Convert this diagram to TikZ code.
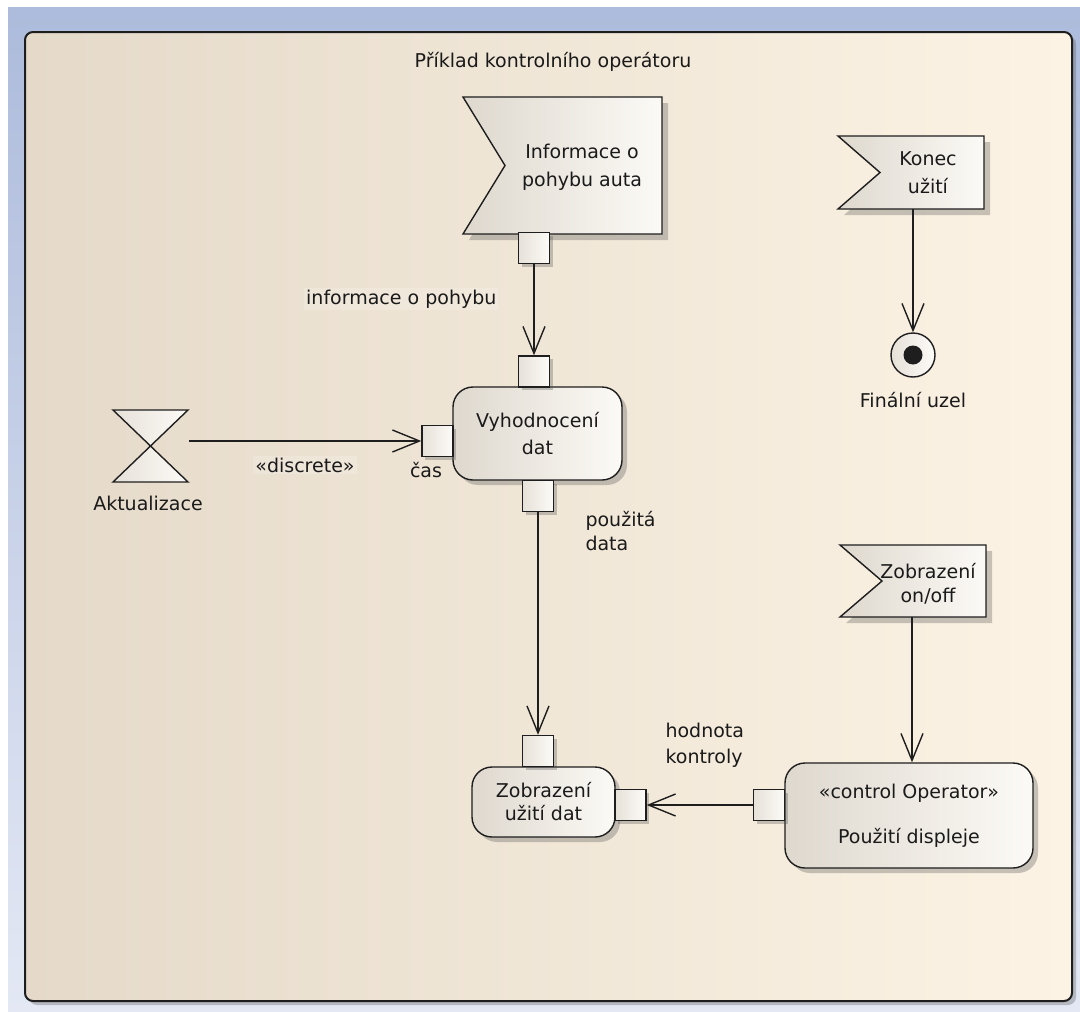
\documentclass[tikz,border=0pt]{standalone}
\usepackage{fontspec}
\setmainfont{DejaVu Sans}
\usetikzlibrary{arrows.meta,shadows}
\definecolor{ink}{HTML}{1E1E1E}
\definecolor{txt}{HTML}{1A1A1A}
\definecolor{bgTop}{HTML}{ADBBDC}
\definecolor{bgBot}{HTML}{E3E8F4}
\definecolor{frameL}{HTML}{E5DACA}
\definecolor{frameR}{HTML}{FCF3E4}
\definecolor{nodeL}{HTML}{DED8CE}
\definecolor{nodeR}{HTML}{FCFAF6}
\definecolor{pinL}{HTML}{E6E1D8}
\definecolor{pinR}{HTML}{FDFBF8}
\newcommand{\fsz}[1]{\fontsize{19}{#1}\selectfont}
\begin{document}
\begin{tikzpicture}[x=1pt,y=-1pt,
  every node/.style={text=txt, font=\fsz{23}},
  line/.style={draw=ink, line width=1.4pt},
  flow/.style={line, -{Straight Barb[length=27pt,width=22pt]}},
  shade box/.style={left color=nodeL, right color=nodeR},
  pinbox/.style={line, shade box, minimum width=31pt, minimum height=31pt, inner sep=0pt,
    left color=pinL, right color=pinR,
    drop shadow={shadow xshift=3pt, shadow yshift=-3pt, opacity=0.3, fill=black!70}},
  action/.style={line, shade box, rounded corners=20pt, align=center, inner sep=0pt,
    drop shadow={shadow xshift=5pt, shadow yshift=-5pt, opacity=0.3, fill=black!70}},
  sigshadow/.style={fill=black!70, opacity=0.3},
  lbl/.style={inner sep=2pt, fill=white, fill opacity=0.18, text opacity=1},
]
\useasboundingbox (0,0) rectangle (1080,1012);

% window background
\fill[white] (0,0) rectangle (1080,1012);
\shade[top color=bgTop, bottom color=bgBot] (8,7) rectangle (1080,1012);

% activity frame
\fill[black!70, opacity=0.3, rounded corners=8pt] (29,36) rectangle (1076,1005);
\draw[draw=ink, line width=2pt, rounded corners=8pt, left color=frameL, right color=frameR]
  (25,32) rectangle (1072,1001);
\node (title) at (553,62) {Příklad kontrolního operátoru};

% accept event: Informace o pohybu auta
\fill[sigshadow, shift={(6,6)}] (463,97) -- (662,97) -- (662,234) -- (463,234) -- (505,165.5) -- cycle;
\draw[line, shade box] (463,97) -- (662,97) -- (662,234) -- (463,234) -- (505,165.5) -- cycle;
\node[align=center, font=\fsz{28}] (tInfo) at (582,167) {Informace o\\pohybu auta};
\node[pinbox] (pInfo) at (534,248) {};

% accept event: Konec užití
\fill[sigshadow, shift={(6,6)}] (838,136) -- (984,136) -- (984,209) -- (838,209) -- (880,172.5) -- cycle;
\draw[line, shade box] (838,136) -- (984,136) -- (984,209) -- (838,209) -- (880,172.5) -- cycle;
\node[align=center, font=\fsz{28}] (tKonec) at (928,173) {Konec\\užití};
\coordinate (konecB) at (913,209);

% final node
\node[circle, line, minimum size=44pt, inner sep=0pt, left color=pinL, right color=pinR] (fin) at (913,355) {};
\fill[ink] (fin.center) circle (9.5);
\node (tFin) at (913,400) {Finální uzel};

% accept event: Zobrazení on/off
\fill[sigshadow, shift={(6,6)}] (840,545) -- (986,545) -- (986,617) -- (840,617) -- (882,581) -- cycle;
\draw[line, shade box] (840,545) -- (986,545) -- (986,617) -- (840,617) -- (882,581) -- cycle;
\node[align=center, font=\fsz{24}] (tOnOff) at (928,584) {Zobrazení\\on/off};
\coordinate (onoffB) at (912,617);

% time event: Aktualizace
\draw[line, left color=pinL, right color=pinR] (113,410) -- (188,410) -- (113,482) -- (188,482) -- cycle;
\coordinate (hg) at (189,441);
\node (tAkt) at (148,503) {Aktualizace};

% action: Vyhodnocení dat
\node[action, minimum width=169pt, minimum height=93pt, font=\fsz{27}] (vyh) at (537.5,433.5) {Vyhodnocení\\dat};
\node[pinbox] (pVyT) at (534,371.5) {};
\node[pinbox] (pVyB) at (538,496) {};
\node[pinbox] (pCas) at (437.5,441) {};
\node (tCas) at (426,470) {čas};

% action: Zobrazení užití dat
\node[action, minimum width=143pt, minimum height=70pt, font=\fsz{23}] (zob) at (543.5,802) {Zobrazení\\užití dat};
\node[pinbox] (pZobT) at (538,751) {};
\node[pinbox] (pZobR) at (630.5,805) {};

% action: Použití displeje
\node[action, minimum width=248pt, minimum height=105pt, font=\fsz{45}] (pouz) at (909,815.5) {«control Operator»\\Použití displeje};
\node[pinbox] (pPouz) at (769,805) {};

% flows
\draw[flow] (pInfo.south) -- (pVyT.north);
\draw[flow] (hg) -- (pCas.west);
\draw[flow] (pVyB.south) -- (pZobT.north);
\draw[flow] (konecB) -- (fin.north);
\draw[flow] (onoffB) -- (onoffB |- pouz.north);
\draw[flow] (pPouz.west) -- (pZobR.east);

% flow labels
\node[lbl, anchor=west] (lInfo) at (304,299) {informace o pohybu};
\node[lbl] (lDisc) at (305,465) {«discrete»};
\node[anchor=west, align=left, font=\fsz{24}] (lData) at (582,531) {použitá\\data};
\node[anchor=west, align=left, font=\fsz{26}] (lHod) at (662,745) {hodnota\\kontroly};
\end{tikzpicture}
\end{document}
